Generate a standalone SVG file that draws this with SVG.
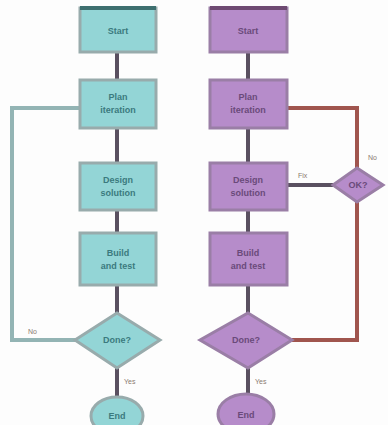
<svg xmlns="http://www.w3.org/2000/svg" width="388" height="425" viewBox="0 0 388 425">
  <style>
    .t-box { fill: #93d5d6; stroke: #98abac; stroke-width: 3; }
    .p-box { fill: #b68cca; stroke: #9a7ea6; stroke-width: 3; }
    .t-txt { fill: #3b7a7e; font-family: "Liberation Sans", Arial, sans-serif; font-size: 9px; font-weight: bold; text-anchor: middle; }
    .p-txt { fill: #6a4a7a; font-family: "Liberation Sans", Arial, sans-serif; font-size: 9px; font-weight: bold; text-anchor: middle; }
    .lbl { fill: #8a7a70; font-family: "Liberation Sans", Arial, sans-serif; font-size: 7px; }
    .flow { stroke: #5a5060; stroke-width: 4; fill: none; }
    .loop-t { stroke: #93b4b4; stroke-width: 4; fill: none; }
    .loop-p { stroke: #a0554e; stroke-width: 4; fill: none; }
  </style>
  <rect width="388" height="425" fill="#fdfdfd"/>

  <g id="connectors">
    <!-- left column -->
    <line class="flow" x1="117" y1="52" x2="117" y2="80"/>
    <line class="flow" x1="117" y1="128" x2="117" y2="163"/>
    <line class="flow" x1="117" y1="210" x2="117" y2="233"/>
    <line class="flow" x1="117" y1="285" x2="117" y2="313"/>
    <line class="flow" x1="117" y1="368" x2="117" y2="396"/>
    <polyline class="loop-t" points="77,340 12,340 12,108 80,108"/>
    <!-- right column -->
    <line class="flow" x1="248" y1="52" x2="248" y2="80"/>
    <line class="flow" x1="248" y1="128" x2="248" y2="163"/>
    <line class="flow" x1="248" y1="210" x2="248" y2="233"/>
    <line class="flow" x1="248" y1="285" x2="248" y2="313"/>
    <line class="flow" x1="248" y1="368" x2="248" y2="394"/>
    <polyline class="loop-p" points="292,340 357,340 357,108 288,108"/>
    <line class="flow" x1="334" y1="185" x2="288" y2="185" stroke="#6a4e52"/>
  </g>

  <!-- left flow -->
  <g id="l-start">
    <rect class="t-box" x="80" y="8" width="76" height="44"/>
    <rect x="80" y="6" width="76" height="4" fill="#3d6f6f"/>
    <text class="t-txt" x="118" y="34">Start</text>
  </g>
  <g id="l-step1">
    <rect class="t-box" x="80" y="80" width="76" height="48"/>
    <text class="t-txt" x="118" y="100">Plan</text>
    <text class="t-txt" x="118" y="113">iteration</text>
  </g>
  <g id="l-step2">
    <rect class="t-box" x="80" y="163" width="76" height="47"/>
    <text class="t-txt" x="118" y="183">Design</text>
    <text class="t-txt" x="118" y="196">solution</text>
  </g>
  <g id="l-step3">
    <rect class="t-box" x="80" y="233" width="76" height="52"/>
    <text class="t-txt" x="118" y="256">Build</text>
    <text class="t-txt" x="118" y="269">and test</text>
  </g>
  <g id="l-check">
    <polygon class="t-box" points="117,313 160,340 117,368 75,340"/>
    <text class="t-txt" x="117" y="343">Done?</text>
  </g>
  <g id="l-end">
    <ellipse class="t-box" cx="117" cy="416" rx="26" ry="19"/>
    <text class="t-txt" x="117" y="419">End</text>
  </g>
  <text class="lbl" x="28" y="334">No</text>
  <text class="lbl" x="124" y="384">Yes</text>

  <!-- right flow -->
  <g id="r-start">
    <rect class="p-box" x="210" y="8" width="77" height="44"/>
    <rect x="210" y="6" width="77" height="4" fill="#6e4a72"/>
    <text class="p-txt" x="248" y="34">Start</text>
  </g>
  <g id="r-step1">
    <rect class="p-box" x="210" y="80" width="77" height="48"/>
    <text class="p-txt" x="248" y="100">Plan</text>
    <text class="p-txt" x="248" y="113">iteration</text>
  </g>
  <g id="r-step2">
    <rect class="p-box" x="210" y="163" width="77" height="47"/>
    <text class="p-txt" x="248" y="183">Design</text>
    <text class="p-txt" x="248" y="196">solution</text>
  </g>
  <g id="r-step3">
    <rect class="p-box" x="210" y="233" width="77" height="52"/>
    <text class="p-txt" x="248" y="256">Build</text>
    <text class="p-txt" x="248" y="269">and test</text>
  </g>
  <g id="r-review">
    <polygon class="p-box" points="357,168 383,185 357,202 333,185"/>
    <text class="p-txt" x="358" y="188" font-size="6">OK?</text>
  </g>
  <g id="r-check">
    <polygon class="p-box" points="248,313 292,340 248,368 200,340"/>
    <text class="p-txt" x="246" y="343">Done?</text>
  </g>
  <g id="r-end">
    <ellipse class="p-box" cx="246" cy="414" rx="28" ry="20"/>
    <text class="p-txt" x="246" y="418">End</text>
  </g>
  <text class="lbl" x="298" y="178">Fix</text>
  <text class="lbl" x="368" y="160">No</text>
  <text class="lbl" x="255" y="384">Yes</text>
</svg>
